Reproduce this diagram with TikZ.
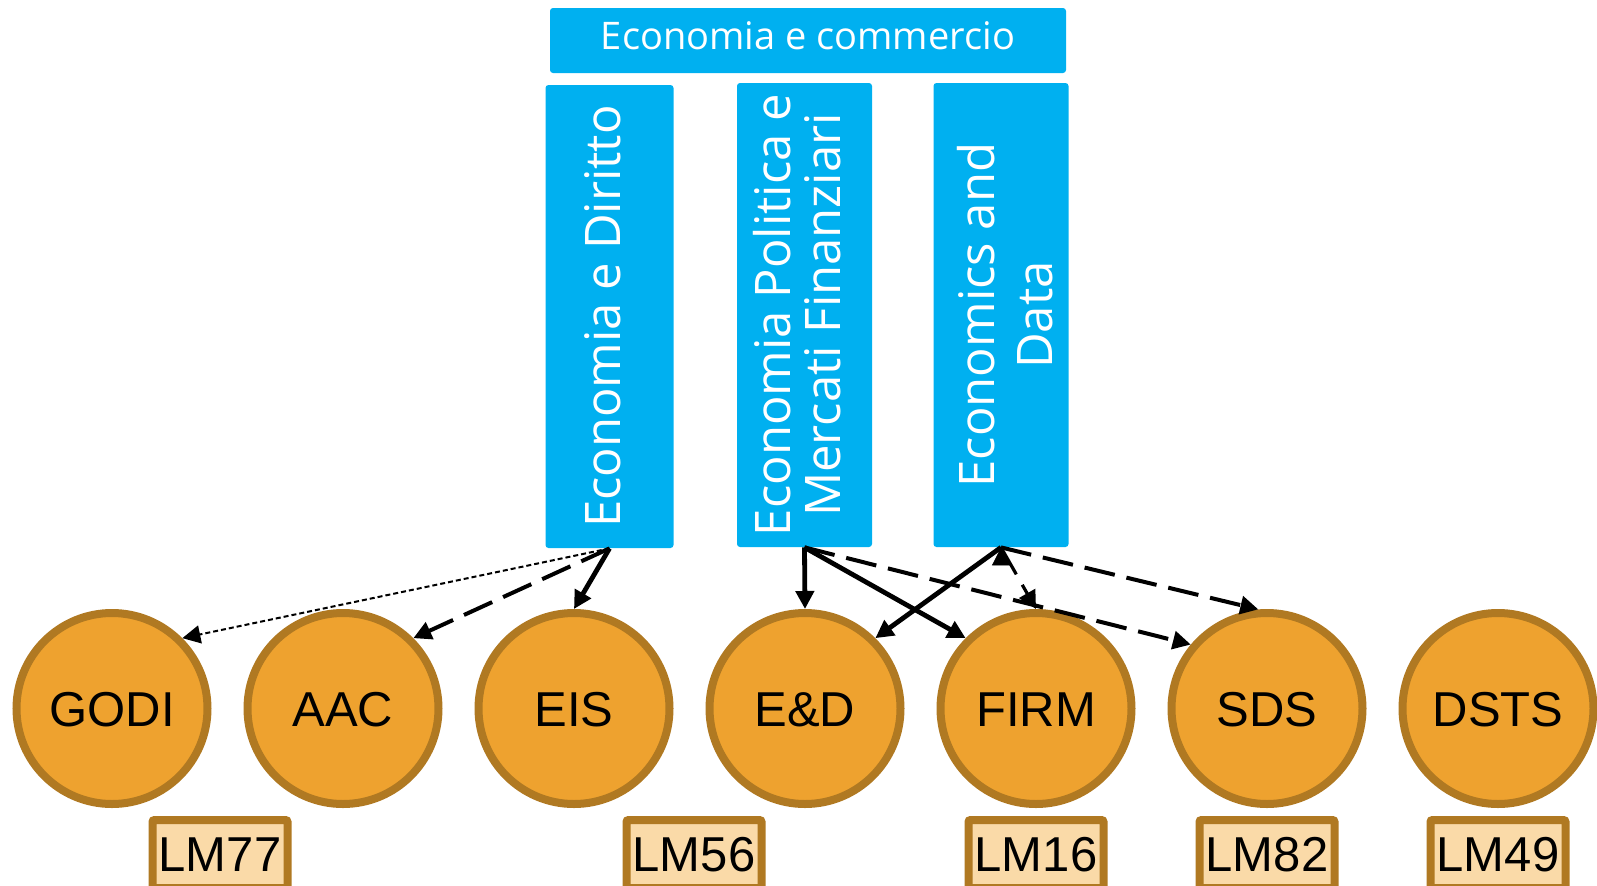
\documentclass[tikz,border=0pt]{standalone}
\usepackage{fontspec}
\setmainfont{Liberation Sans}
\newfontfamily\uifont{Open Sans}
\usetikzlibrary{arrows.meta,positioning}

\definecolor{azzurro}{RGB}{0,176,240}
\definecolor{arancio}{RGB}{238,162,47}
\definecolor{bronzo}{RGB}{176,121,34}
\definecolor{crema}{RGB}{250,218,168}

\begin{document}
\begin{tikzpicture}[x=0.5pt,y=-0.5pt,>={Triangle[length=9pt,width=9pt]},node distance=115.5pt,
    fac/.style={fill=azzurro,text=white,rounded corners=1.5pt,inner sep=0pt,
      font=\uifont\fontsize{24.5}{25}\selectfont,align=center},
    laurea/.style={circle,draw=bronzo,fill=arancio,line width=4pt,minimum size=95.5pt,inner sep=0pt,
      font=\fontsize{24.5}{28}\selectfont,text height=17.5pt,text depth=0pt},
    classe/.style={draw=bronzo,fill=crema,line width=4pt,rounded corners=1pt,minimum width=67.5pt,
      minimum height=34pt,inner sep=0pt,font=\fontsize{24.5}{28}\selectfont,text height=17.5pt,text depth=0pt},
    forte/.style={line width=2.4pt},
    medio/.style={line width=2pt,dash pattern=on 15.5pt off 6pt},
    tenue/.style={line width=1pt,dash pattern=on 2.5pt off 1.5pt}]
  \useasboundingbox (0,0) rectangle (1597,885);
  \clip (0,0) rectangle (1597,885);

  % corso e curricula
  \node[fac,minimum width=258pt,minimum height=32.5pt,font=\uifont\fontsize{19}{22}\selectfont,
    text height=14.4pt,text depth=5.7pt] (ec) at (808,40.5) {Economia e commercio};
  \node[fac,rotate=90,minimum width=231.5pt,minimum height=64pt,text height=18.6pt,text depth=7.4pt]
    (edir) at (609.5,316.5) {Economia e Diritto};
  \node[fac,rotate=90,minimum width=232pt,minimum height=67.5pt] (epmf) at (804.5,315)
    {Economia Politica e\\Mercati Finanziari\rule[-8pt]{0pt}{0pt}};
  \node[fac,rotate=90,minimum width=232pt,minimum height=67.5pt,font=\uifont\fontsize{24.5}{29}\selectfont]
    (ecdata) at (1001,315) {\rule{0pt}{22.6pt}Economics and\\Data};

  % lauree magistrali
  \node[laurea] (godi) at (112,708.5) {GODI};
  \node[laurea] (aac)  [right of=godi] {AAC};
  \node[laurea] (eis)  [right of=aac]  {EIS};
  \node[laurea] (ed)   [right of=eis]  {E\&D};
  \node[laurea] (firm) [right of=ed]   {FIRM};
  \node[laurea] (sds)  [right of=firm] {SDS};
  \node[laurea] (dsts) [right of=sds]  {DSTS};

  % classi
  \node[classe] (lm77) at (220,854) {LM77};
  \node[classe] (lm56) at (694,854) {LM56};
  \node[classe] (lm16) [node distance=72.75pt,below of=firm] {LM16};
  \node[classe] (lm82) [node distance=72.75pt,below of=sds]  {LM82};
  \node[classe] (lm49) [node distance=72.75pt,below of=dsts] {LM49};

  \draw[->]
      (edir.west)   edge [tenue] (godi.45)
                    edge [medio] (aac.45)
                    edge [forte] (eis.north)
      (epmf.west)   edge [forte] (ed.north)
                    edge [forte] (firm.135)
                    edge [medio] (sds.140)
      (ecdata.west) edge [forte] (ed.45)
                    edge [medio,line width=1.6pt] (firm.north)
                    edge [medio] (sds.95);
\end{tikzpicture}
\end{document}
